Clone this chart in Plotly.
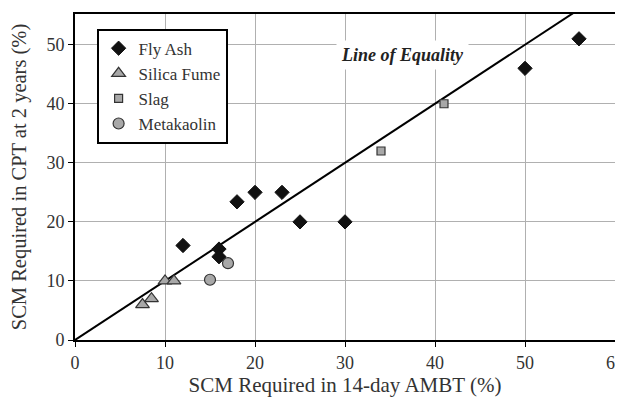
import plotly.graph_objects as go

fly_ash_x = [12, 16, 16, 18, 20, 23, 25, 30, 50, 56]
fly_ash_y = [16, 15.4, 14.1, 23.4, 25, 25, 20, 20, 46, 51]
silica_x = [7.5, 8.5, 10, 11]
silica_y = [6, 7, 10, 10]
slag_x = [34, 41]
slag_y = [32, 40]
meta_x = [15, 17]
meta_y = [10.2, 13]
equality_x = [0, 56]
equality_y = [0, 56]

FONT = "Liberation Serif, Times New Roman, serif"

fig = go.Figure()
fig.add_trace(go.Scatter(x=equality_x, y=equality_y, mode="lines",
                         line=dict(color="black", width=2), showlegend=False,
                         hoverinfo="skip"))
fig.add_trace(go.Scatter(x=fly_ash_x, y=fly_ash_y, mode="markers", name="Fly Ash",
                         marker=dict(symbol="diamond", size=11, color="#111111",
                                     line=dict(color="#111111", width=1))))
fig.add_trace(go.Scatter(x=silica_x, y=silica_y, mode="markers", name="Silica Fume",
                         marker=dict(symbol="triangle-up", size=12, color="#a8a8a8",
                                     line=dict(color="#333333", width=1.2))))
fig.add_trace(go.Scatter(x=slag_x, y=slag_y, mode="markers", name="Slag",
                         marker=dict(symbol="square", size=8, color="#a8a8a8",
                                     line=dict(color="#333333", width=1.2))))
fig.add_trace(go.Scatter(x=meta_x, y=meta_y, mode="markers", name="Metakaolin",
                         marker=dict(symbol="circle", size=11, color="#a8a8a8",
                                     line=dict(color="#333333", width=1.2))))

fig.add_annotation(x=36.4, y=48.3, xref="x", yref="y", text="<b><i>Line of Equality</i></b>",
                   showarrow=False, bgcolor="white", borderpad=4,
                   font=dict(family=FONT, size=18, color="#222222"))

axis_common = dict(showline=True, linecolor="black", linewidth=2, mirror=True,
                   showgrid=True, gridcolor="#b0b0b0", gridwidth=1.2,
                   zeroline=False, ticks="outside", ticklen=5, tickcolor="black",
                   tickfont=dict(family=FONT, size=18, color="#333333"),
                   ticklabeloverflow="allow",
                   dtick=10, automargin=False)

# the page body adds an 8px offset; figure sized/margined to compensate
fig.update_layout(
    width=615, height=397,
    margin=dict(l=67, r=8, t=6, b=65),
    plot_bgcolor="white", paper_bgcolor="white",
    font=dict(family=FONT, color="#333333"),
    xaxis=dict(range=[0, 60], title=dict(text="SCM Required in 14-day AMBT (%)",
               font=dict(family=FONT, size=21), standoff=6), **axis_common),
    yaxis=dict(range=[0, 55.2], title=dict(text="SCM Required in CPT at 2 years (%)",
               font=dict(family=FONT, size=20.5), standoff=15), **axis_common),
    legend=dict(x=0.04, y=0.955, xanchor="left", yanchor="top",
                bgcolor="white", bordercolor="black", borderwidth=2,
                font=dict(family=FONT, size=17, color="#333333"),
                itemwidth=30, tracegroupgap=0),
    showlegend=True,
)

fig.write_html("out.html")
